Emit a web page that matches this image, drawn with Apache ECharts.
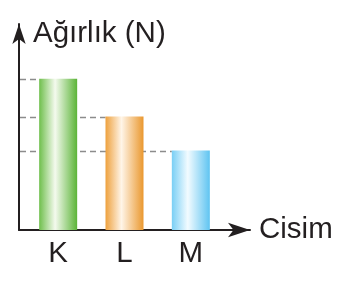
<!DOCTYPE html>
<html>
<head>
<meta charset="utf-8">
<script src="https://cdn.jsdelivr.net/npm/echarts@6/dist/echarts.min.js"></script>
<style>
html,body{margin:0;padding:0;background:#fff;}
#c{width:349px;height:295px;}
</style>
</head>
<body>
<div id="c"></div>
<script>
const categories = ['K', 'L', 'M'];
const weights = [4, 3, 2.1];
const barColors = [
  ['#6fbf4c', '#f4faee', '#5bb437'],
  ['#eea13d', '#fff5e8', '#ea982f'],
  ['#79cff5', '#f2fbff', '#5fc4f1']
];
const yAxisName = 'Ağırlık (N)';
const xAxisName = 'Cisim';

const INK = '#231f20';
const FONT = '"Liberation Sans", Arial, sans-serif';
const FS = 29.5;
const BAR_W = 38;
const AXIS_LEFT = 19;
const BAR_LEFT = 25;

const chart = echarts.init(document.getElementById('c'), null, {renderer: 'canvas'});

function grad(c) {
  return new echarts.graphic.LinearGradient(0, 0, 1, 0, [
    {offset: 0, color: c[0]},
    {offset: 0.42, color: c[1]},
    {offset: 1, color: c[2]}
  ]);
}

chart.setOption({
  animation: false,
  backgroundColor: '#fff',
  grid: [
    {left: AXIS_LEFT, right: 99, top: 24, bottom: 65},
    {left: BAR_LEFT, width: 199, top: 41, bottom: 65}
  ],
  xAxis: [
    {
      gridIndex: 0, type: 'value', min: 0, max: 1,
      axisLine: {show: true, onZero: false, lineStyle: {color: INK, width: 2}, symbol: ['none', 'arrow'], symbolSize: [11, 22]},
      axisTick: {show: false}, axisLabel: {show: false}, splitLine: {show: false},
      name: xAxisName, nameLocation: 'end', nameGap: 9,
      nameTextStyle: {color: INK, fontSize: FS, fontFamily: FONT, verticalAlign: 'middle', padding: [0, 0, 3, 0]}
    },
    {
      gridIndex: 1, type: 'category', data: categories,
      axisLine: {show: false}, axisTick: {show: false}, splitLine: {show: false},
      axisLabel: {color: INK, fontSize: FS, fontFamily: FONT, margin: 9}
    }
  ],
  yAxis: [
    {
      gridIndex: 0, type: 'value', min: 0, max: 1,
      axisLine: {show: true, onZero: false, lineStyle: {color: INK, width: 2}, symbol: ['none', 'arrow'], symbolSize: [10, 20]},
      axisTick: {show: false}, axisLabel: {show: false}, splitLine: {show: false},
      name: yAxisName, nameLocation: 'end', nameGap: -10,
      nameTextStyle: {color: INK, fontSize: FS, fontFamily: FONT, align: 'left', verticalAlign: 'middle', padding: [0, 0, 0, 14]}
    },
    {
      gridIndex: 1, type: 'value', min: 0, max: 5,
      axisLine: {show: false}, axisTick: {show: false}, axisLabel: {show: false}, splitLine: {show: false}
    }
  ],
  series: [
    {
      type: 'custom', xAxisIndex: 1, yAxisIndex: 1, z: 1,
      data: weights.map((v, i) => [i, v]),
      encode: {x: 0, y: 1},
      renderItem: function (params, api) {
        const p = api.coord([api.value(0), api.value(1)]);
        const x0 = params.coordSys.x - (BAR_LEFT - AXIS_LEFT) + 1;
        const x1 = p[0] - BAR_W / 2;
        return {
          type: 'line',
          shape: {x1: x0, y1: Math.round(p[1]) + 0.5, x2: x1, y2: Math.round(p[1]) + 0.5},
          style: {stroke: '#8c8c8c', lineWidth: 1.6, lineDash: [6, 4]}
        };
      }
    },
    {
      type: 'bar', xAxisIndex: 1, yAxisIndex: 1, z: 2,
      barWidth: BAR_W,
      data: weights.map((v, i) => ({value: v, itemStyle: {color: grad(barColors[i])}}))
    }
  ]
});
</script>
</body>
</html>
